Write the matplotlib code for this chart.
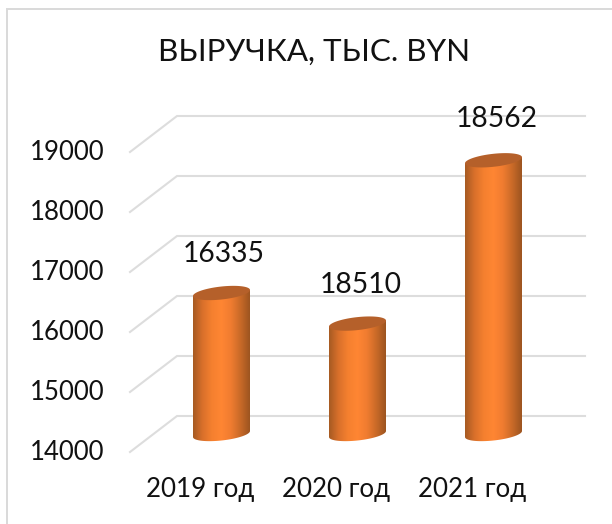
import numpy as np
import matplotlib
matplotlib.use("Agg")
import matplotlib.pyplot as plt
from matplotlib.patches import Polygon
from matplotlib.colors import LinearSegmentedColormap

plt.rcParams['font.family'] = ['Lato', 'Open Sans', 'DejaVu Sans']

categories = ['2019 год', '2020 год', '2021 год']
heights = [16350, 15840, 18562]
data_labels = ['16335', '18510', '18562']
ticks = [14000, 15000, 16000, 17000, 18000, 19000]
base = 14000
title = 'ВЫРУЧКА, ТЫС. BYN'

W, H = 612, 524
fig = plt.figure(figsize=(W / 100, H / 100), dpi=100)
ax = fig.add_axes([0, 0, 1, 1])

PX_X = 136.0          # pixels per category
PX_Y = 0.06           # pixels per value unit
XMIN, XMAX = -221.5 / PX_X, (W - 221.5) / PX_X
YMIN, YMAX = base - (H - 434) / PX_Y, base + 434 / PX_Y
ax.axis('off')

# chart frame (left and top edges)
ax.plot([6.5 / W, 6.5 / W, 1.0], [0.0, 1.0 - 8.5 / H, 1.0 - 8.5 / H], transform=ax.transAxes,
        color='#D9D9D9', lw=1.4, solid_joinstyle='miter')

# oblique gridlines
depth = 18 / PX_Y
xf, xb, xe = (130 - 221.5) / PX_X, (177 - 221.5) / PX_X, (585 - 221.5) / PX_X
for t in ticks:
    ax.plot([xf, xb, xe], [t - depth, t + depth, t + depth], color='#DDDDDD', lw=1.5, zorder=1,
            solid_joinstyle='miter')
    ax.text((104 - 221.5) / PX_X, t - depth, str(t), ha='right', va='center', fontsize=18.5, color='#111111')

cmap = LinearSegmentedColormap.from_list('cyl', ['#A65A22', '#D9702B', '#F5802F', '#FF8633', '#F07C30', '#C96A28', '#9C5420'])
grad = np.linspace(0, 1, 256).reshape(1, -1)

a, b, tilt = 28.5 / PX_X, 6.5 / PX_Y, 3.0 / PX_Y   # semi-axes and tilt
th = np.linspace(0, 2 * np.pi, 121)
for i, h in enumerate(heights):
    ex = a * np.cos(th)
    ey = b * np.sin(th) + tilt * np.cos(th)
    lower = th[60:121]          # lower half, left to right
    lx = a * np.cos(lower)
    ly = b * np.sin(lower) + tilt * np.cos(lower)
    side = np.vstack([np.c_[i + lx, base + ly], [[i + a, h + tilt], [i - a, h - tilt]]])
    poly = Polygon(side, closed=True, fc='none', ec='none', zorder=2)
    ax.add_patch(poly)
    im = ax.imshow(grad, extent=[i - a, i + a, base - 2 * b, h + 2 * b], aspect='auto', cmap=cmap, zorder=2,
                   interpolation='bilinear')
    im.set_clip_path(poly)
    ax.add_patch(Polygon(np.c_[i + ex, h + ey], closed=True, fc='#B5602A', ec='none', zorder=3))

ax.set_xlim(XMIN, XMAX)
ax.set_ylim(YMIN, YMAX)

label_dx = [2, 3.5, 3.5]
label_dy = [39, 39, 41]
for i, (h, lab) in enumerate(zip(heights, data_labels)):
    ax.text(i + label_dx[i] / PX_X, h + label_dy[i] / PX_Y, lab, ha='center', va='center', fontsize=20.3,
            color='#111111', zorder=4)

for i, c in enumerate(categories):
    ax.text(i - 21.5 / PX_X, base - 55 / PX_Y, c, ha='center', va='center', fontsize=18.7, color='#111111')

ax.text((314.5 - 221.5) / PX_X, base + (434 - 52) / PX_Y, title, ha='center', va='center', fontsize=22.6, color='#111111')

fig.savefig('out.png', dpi=100, facecolor='white')
